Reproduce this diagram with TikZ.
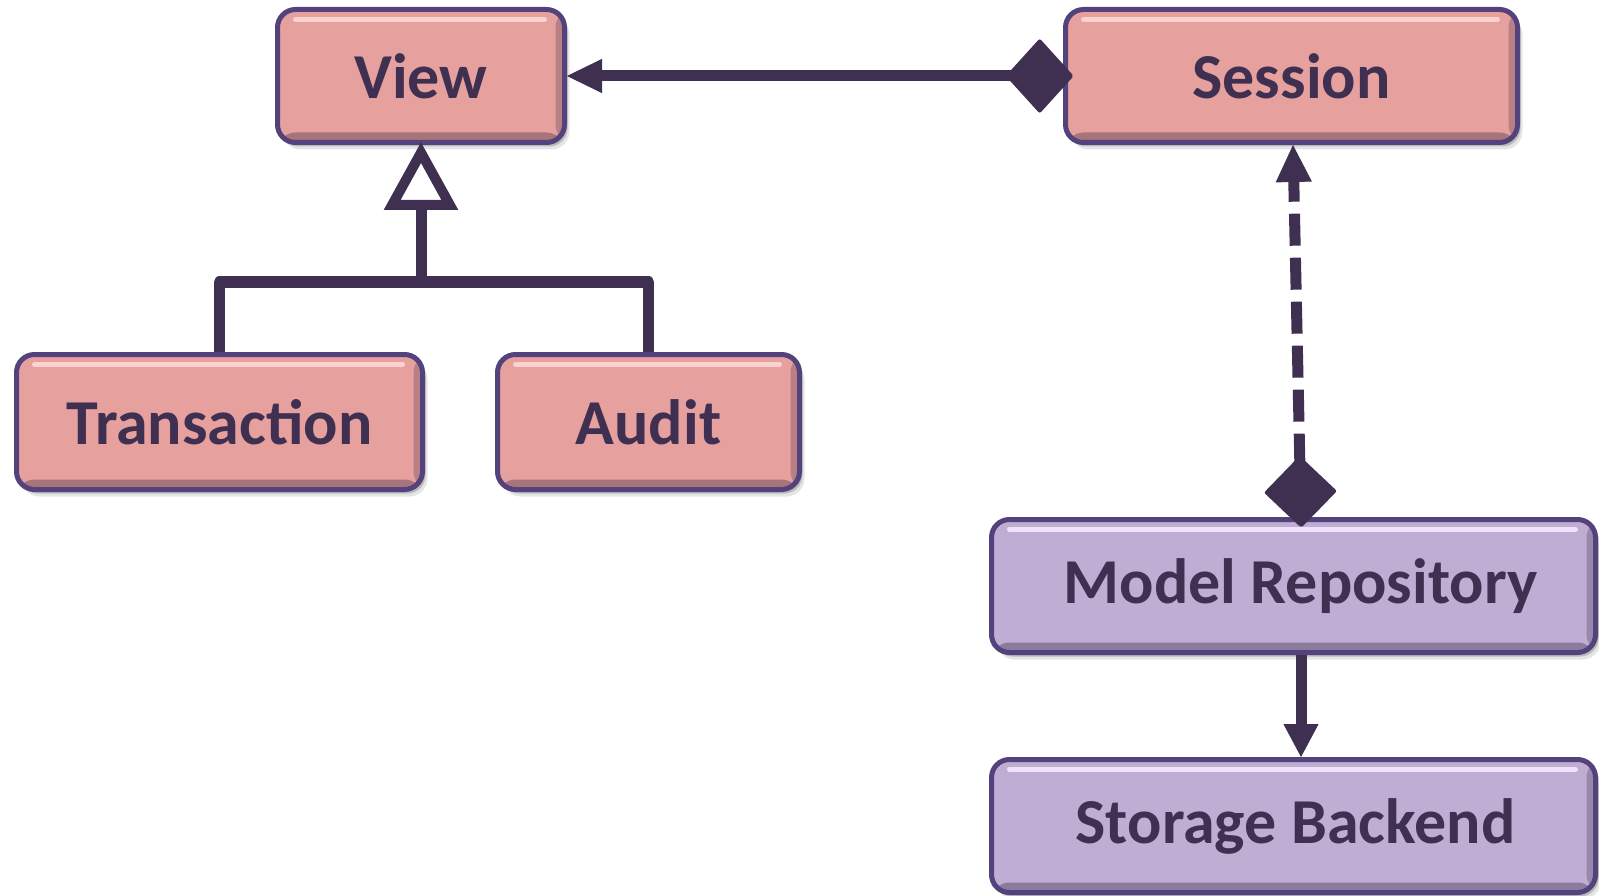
\documentclass[tikz,border=0pt]{standalone}
\usepackage{fontspec}
\setmainfont{Carlito}
\usetikzlibrary{arrows.meta,shadows}
\definecolor{ink}{HTML}{3F3052}
\definecolor{edge}{HTML}{54427C}
\definecolor{pinkF}{HTML}{E6A09E}
\definecolor{pinkL}{HTML}{FCD2D0}
\definecolor{pinkD}{HTML}{946670}
\definecolor{lilF}{HTML}{BFADD3}
\definecolor{lilL}{HTML}{F0E2FC}
\definecolor{lilD}{HTML}{7A6B8C}
\tikzset{
  box/.style={draw=edge, line width=5pt, rounded corners=18pt, text=ink,
    font=\fontsize{64}{72}\selectfont\bfseries, inner sep=0pt,
    drop shadow={shadow xshift=5pt, shadow yshift=-7pt, opacity=0.10, fill=black},
    drop shadow={shadow xshift=3pt, shadow yshift=-4pt, opacity=0.18, fill=black}},
  bevel/.style n args={3}{fill=#1,
    path picture={
      \fill[#2, opacity=0.75] ([yshift=10pt]path picture bounding box.south west) rectangle (path picture bounding box.south east);
      \fill[#2, opacity=0.55] ([xshift=-9pt]path picture bounding box.north east) rectangle (path picture bounding box.south east);
      \draw[#3, line width=5pt, line cap=round] ([xshift=18pt,yshift=-10pt]path picture bounding box.north west) -- ([xshift=-20pt,yshift=-10pt]path picture bounding box.north east);
    }},
  pinkbox/.style={box, bevel={pinkF}{pinkD}{pinkL}},
  lilbox/.style={box, bevel={lilF}{lilD}{lilL}},
  conn/.style={draw=ink, line width=11pt},
}
\begin{document}
\begin{tikzpicture}[x=1pt, y=-1pt]
\useasboundingbox[fill=white] (0,0) rectangle (1599,896);
% nodes
\node[pinkbox, minimum width=287pt, minimum height=133pt] (view) at (421,76) {View};
\node[pinkbox, minimum width=452pt, minimum height=133pt] (session) at (1291.5,76) {Session};
\node[pinkbox, minimum width=406pt, minimum height=135pt] (trans) at (219.5,422) {Transaction};
\node[pinkbox, minimum width=302pt, minimum height=135pt] (audit) at (648.5,422) {Audit};
\node[lilbox, minimum width=604pt, minimum height=133pt] (repo) at (1293.5,586) {\hspace*{14pt}Model Repository};
\node[lilbox, minimum width=604pt, minimum height=133pt] (store) at (1293.5,826) {\hspace*{4pt}Storage Backend};
\coordinate (jn) at (421,282);
% connectors
\draw[conn, shorten <=-10pt, {Diamond[length=68pt,width=75pt,round,line width=4pt]}-{Triangle[length=35pt,width=34pt,line width=1pt]}] (session.west) -- (view.east);
\draw[conn, line join=round] (audit.north) |- (jn);
\draw[conn, line join=round, shorten >=-3pt, -{Triangle[open,length=68pt,width=72pt,line width=10pt]}] (trans.north) |- (jn) -- (view.south);
\draw[conn, dash pattern=on 32pt off 12pt, shorten <=-10pt, {Diamond[length=72pt,width=73pt,round,line width=4pt]}-{Triangle[length=37pt,width=36pt,line width=1pt]}] ([xshift=7.5pt]repo.north) -- ([xshift=1.5pt]session.south);
\draw[conn, -{Triangle[length=33pt,width=35pt,line width=1pt]}] ([xshift=7.5pt]repo.south) -- ([xshift=7.5pt]store.north);
\end{tikzpicture}
\end{document}
